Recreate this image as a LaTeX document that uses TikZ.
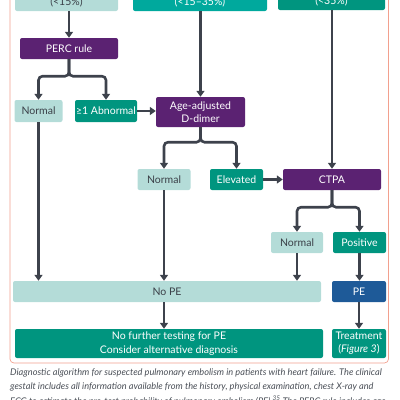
\documentclass[tikz,border=0pt]{standalone}
\usepackage{fontspec}
\setmainfont{Lato}
\usetikzlibrary{arrows.meta}
\definecolor{lteal}{HTML}{B4DCD8}
\definecolor{tealA}{HTML}{00A99D}
\definecolor{tealB}{HTML}{00957F}
\definecolor{purp}{HTML}{5B2272}
\definecolor{peblue}{HTML}{1E5A98}
\definecolor{arr}{HTML}{3D424C}
\definecolor{txt}{HTML}{3A3F47}
\definecolor{framec}{HTML}{F2A08E}
\definecolor{capc}{HTML}{4A4F57}
\begin{document}
\begin{tikzpicture}[x=1pt,y=-1pt,
  box/.style={rounded corners=2pt, inner sep=0pt, align=center, font=\fontsize{10.5}{12.5}\selectfont},
  light/.style={box, fill=lteal, text=txt},
  dark/.style={box, fill=tealB, text=white},
  brightbox/.style={box, fill=tealA, text=white},
  purpbox/.style={box, fill=purp, text=white},
  bluebox/.style={box, fill=peblue, text=white},
  conn/.style={draw=arr, line width=2.6pt, rounded corners=4pt, -{Triangle[length=6pt,width=8pt]}},
  captext/.style={anchor=base west, inner sep=0pt, text=capc, font=\fontsize{9.2}{10}\selectfont\itshape}
]
\useasboundingbox (0,0) rectangle (400,400);
\clip (0,0) rectangle (400,400);
% frame
\draw[framec, line width=0.7pt, rounded corners=4pt] (10,-20) rectangle (388.5,363);
% top boxes
\node[light, minimum width=103pt, minimum height=18pt] (b1) at (66.5,2) {(<15\%)};
\node[brightbox, minimum width=134pt, minimum height=18pt] (b2) at (200,2) {(<15–35\%)};
\node[dark, minimum width=107pt, minimum height=17pt] (b3) at (331.5,1.5) {(<35\%)};
% nodes
\node[purpbox, minimum width=98pt, minimum height=21pt] (perc) at (69,48.5) {PERC rule};
\node[light, minimum width=48pt, minimum height=22pt] (n1) at (38.5,111) {Normal};
\node[dark, minimum width=62pt, minimum height=22pt] (abn) at (106,111) {≥1 Abnormal};
\node[purpbox, minimum width=89pt, minimum height=30pt] (age) at (200.5,112) {Age-adjusted\\D-dimer};
\node[light, minimum width=53pt, minimum height=21pt] (n2) at (164,179.5) {Normal};
\node[dark, minimum width=53pt, minimum height=21pt] (elev) at (236.5,179.5) {Elevated};
\node[purpbox, minimum width=98pt, minimum height=21pt] (ctpa) at (332,179.5) {CTPA};
\node[light, minimum width=52pt, minimum height=21pt] (n3) at (297,242.5) {Normal};
\node[dark, minimum width=53pt, minimum height=21pt] (pos) at (359.5,242.5) {Positive};
\node[light, minimum width=308pt, minimum height=21pt] (nope) at (167,291.5) {No PE};
\node[bluebox, minimum width=54pt, minimum height=21pt] (pe) at (359,291.5) {PE};
\node[dark, minimum width=308pt, minimum height=29pt, font=\fontsize{10.5}{14}\selectfont] (nft) at (169,343.5) {No further testing for PE\\Consider alternative diagnosis};
\node[dark, minimum width=54pt, minimum height=29pt, font=\fontsize{10.5}{13.3}\selectfont] (treat) at (359,343.5) {Treatment\\(\textit{Figure 3})};
% connectors
\draw[conn] (perc.north |- b1.south) -- (perc.north);
\draw[conn] (perc.south) -- ++(0,17) -| (n1.north);
\draw[conn] (perc.south) -- ++(0,17) -| (abn.north);
\draw[conn] (abn.east) -- (abn.east -| age.west);
\draw[conn] (age.north |- b2.south) -- (age.north);
\draw[conn] (age.south) -- ++(0,15) -| (n2.north);
\draw[conn] (age.south) -- ++(0,15) -| (elev.north);
\draw[conn] (elev.east) -- (elev.east -| ctpa.west);
\draw[conn] (ctpa.north |- b3.south) -- (ctpa.north);
\draw[conn] (ctpa.south) -- ++(0,17) -| (n3.north);
\draw[conn] (ctpa.south) -- ++(0,17) -| (pos.north);
\draw[conn] (n1.south) -- (n1.south |- nope.north);
\draw[conn] (n2.south) -- (n2.south |- nope.north);
\draw[conn] (n3.south) -- (n3.south |- nope.north);
\draw[conn] (pos.south) -- (pos.south |- pe.north);
\draw[conn] (n2.south |- nope.south) -- (n2.south |- nft.north);
\draw[conn] (pe.south) -- (pe.south |- treat.north);
% caption
\node[captext] (cap1) at (10,375) {Diagnostic algorithm for suspected pulmonary embolism in patients with heart failure. The clinical};
\node[captext] (cap2) at (10,389.5) {gestalt includes all information available from the history, physical examination, chest X-ray and};
\node[captext] (cap3) at (10,404) {ECG to estimate the pre-test probability of pulmonary embolism (PE).\textsuperscript{35} The PERC rule includes age};
\end{tikzpicture}
\end{document}
